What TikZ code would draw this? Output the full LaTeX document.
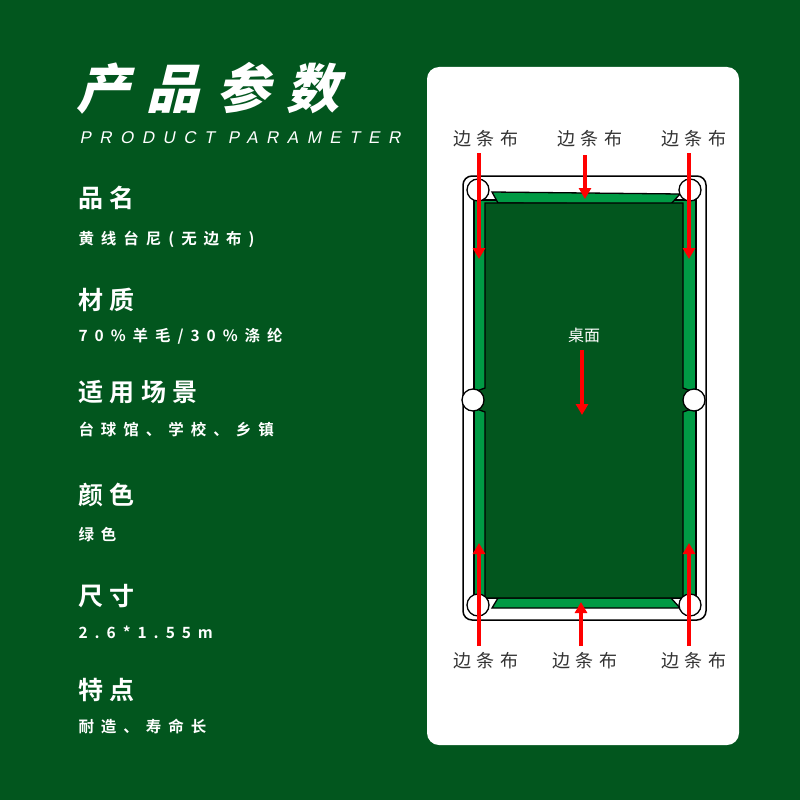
\documentclass[tikz,border=0pt]{standalone}
\usepackage{fontspec}
\usetikzlibrary{arrows.meta}
\newfontfamily\cjk{Noto Sans CJK SC}[BoldFont={Noto Sans CJK SC Black}]
\newfontfamily\cjkbf{Noto Sans CJK SC Bold}[LetterSpace=25]
\newfontfamily\cjkslant{Noto Sans CJK SC Black}[FakeSlant=0.25,LetterSpace=32]
\newfontfamily\latslant{Liberation Sans}[FakeSlant=0.2,LetterSpace=50]
\newfontfamily\cjksp{Noto Sans CJK SC Bold}[LetterSpace=45]
\newfontfamily\cjklab{Noto Sans CJK SC}[LetterSpace=30]
\definecolor{bg}{HTML}{02561E}
\definecolor{cushion}{HTML}{009A44}
\definecolor{lab}{HTML}{333333}
\begin{document}
\begin{tikzpicture}[x=1pt,y=-1pt,
head/.style={%
anchor=west,
text=white,
font=\cjkbf\fontsize{25}{25}\selectfont
},
info/.style={%
anchor=west,
text=white,
font=\cjksp\fontsize{15.5}{15.5}\selectfont
},
side/.style={%
text=lab,
font=\cjklab\fontsize{18}{18}\selectfont
},
redarrow/.style={%
red,
line width=4.5pt,
-{Triangle[width=12pt,length=11pt]}
},
pocket/.style={%
circle,
draw=black,
line width=1.3pt,
fill=white,
minimum size=22pt,
inner sep=0pt
},
]
\fill[bg](0,0)rectangle(800,800);
\useasboundingbox(0,0)rectangle(800,800);
% left column
\node[anchor=west,text=white,font=\cjkslant\fontsize{53}{53}\selectfont]at(73,88)(title){产品参数};
\node[anchor=west,text=white,font=\latslant\fontsize{17}{17}\selectfont]at(76,138)(sub){PRODUCT PARAMETER};
\node[head]at(75,198)(h1){品名};
\node[info]at(75,239)(i1){黄线台尼(无边布)};
\node[head]at(75,300)(h2){材质};
\node[info]at(75,336)(i2){70\%羊毛/30\%涤纶};
\node[head]at(75,392)(h3){适用场景};
\node[info]at(75,429)(i3){台球馆、学校、乡镇};
\node[head]at(75,495)(h4){颜色};
\node[info]at(75,535)(i4){绿色};
\node[head]at(75,596)(h5){尺寸};
\node[info]at(75,632)(i5){2.6*1.55m};
\node[head]at(75,690)(h6){特点};
\node[info]at(75,726)(i6){耐造、寿命长};
% panel and table
\fill[white,rounded corners=12pt](427,67)rectangle(739,745);
\draw[line width=1.5pt,rounded corners=9pt](463,176)rectangle(706,620);
\draw[line width=1.3pt,fill=cushion](474,200)rectangle(696,598);
\draw[line width=1.3pt,fill=cushion](492,192)--(680,194)--(671,204)--(498,203)--cycle;
\draw[line width=1.3pt,fill=cushion](492,608)--(680,608)--(671,598)--(498,598)--cycle;
\draw[line width=1.3pt,fill=bg](485,203)--(683,203)--(683,388)--(694,392)--(694,408)--(683,412)
  --(683,598)--(485,598)--(485,412)--(474,408)--(474,392)--(485,388)--cycle;
\node[pocket]at(478,190)(p1){};
\node[pocket]at(690,190)(p2){};
\node[pocket]at(473,400)(p3){};
\node[pocket]at(694,400)(p4){};
\node[pocket]at(478,605)(p5){};
\node[pocket]at(690,605)(p6){};
% labels
\node[side]at(486,139)(l1){边条布};
\node[side]at(590,139)(l2){边条布};
\node[side]at(694,139)(l3){边条布};
\node[side]at(486,661)(l4){边条布};
\node[side]at(585,661)(l5){边条布};
\node[side]at(694,661)(l6){边条布};
\node[text=white,font=\cjk\fontsize{16}{16}\selectfont]at(584,335)(felt){桌面};
\coordinate(e1)at(479,259);
\coordinate(e2)at(585,199);
\coordinate(e3)at(689,259);
\coordinate(e4)at(479,543);
\coordinate(e5)at(581,602);
\coordinate(e6)at(689,543);
\coordinate(e7)at(582,415);
\draw[redarrow](479,153)--(e1);
\draw[redarrow](585,155)--(e2);
\draw[redarrow](689,153)--(e3);
\draw[redarrow](479,646)--(e4);
\draw[redarrow](581,646)--(e5);
\draw[redarrow](689,646)--(e6);
\draw[redarrow](582,350)--(e7);
\end{tikzpicture}
\end{document}
